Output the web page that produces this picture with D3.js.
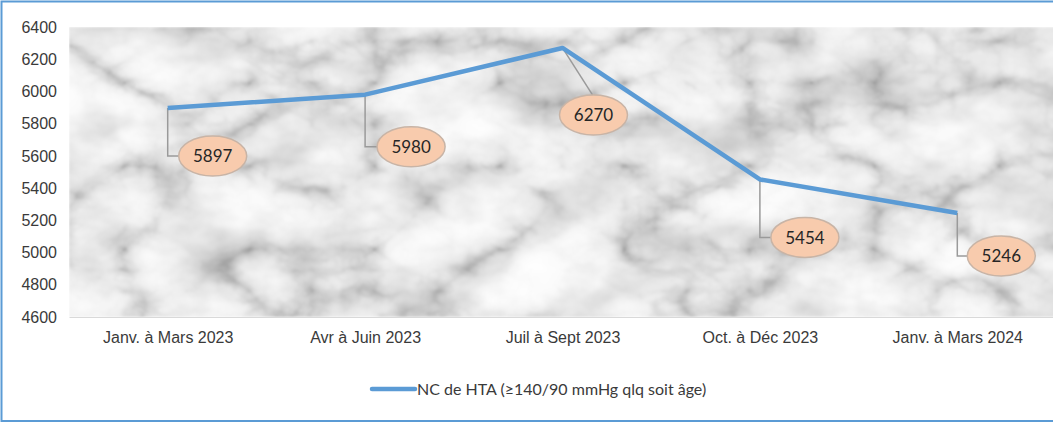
<!DOCTYPE html>
<html>
<head>
<meta charset="utf-8">
<script src="https://cdn.jsdelivr.net/npm/d3@7/dist/d3.min.js"></script>
<style>
  html, body { margin: 0; padding: 0; background: #fff; }
  svg { display: block; font-family: Lato, "Open Sans", sans-serif; }
</style>
</head>
<body>
<div id="chart"></div>
<script>
// Quarterly counts of new hypertension cases
const categories = ["Janv. à Mars 2023", "Avr à Juin 2023", "Juil à Sept 2023", "Oct. à Déc 2023", "Janv. à Mars 2024"];
const values = [5897, 5980, 6270, 5454, 5246];
const yTicks = [4600, 4800, 5000, 5200, 5400, 5600, 5800, 6000, 6200, 6400];
const seriesName = "NC de HTA (≥140/90 mmHg qlq soit âge)";
// callout offsets (px) relative to each point
const labelDx = [45, 46, 31, 45, 44];
const labelDy = [48, 52, 67, 58, 43];
const labelDiagonal = [false, false, true, false, false];

const W = 1053, H = 423;
const plot = { left: 69, top: 27, right: 1056, bottom: 317 };
const lineColor = "#5B9BD5";
const textColor = "#3a3a3a";

const svg = d3.select("#chart").append("svg")
  .attr("width", W).attr("height", H);

// marble texture: cloudy grey ground multiplied with turbulence veins
const defs = svg.append("defs");
const f = defs.append("filter").attr("id", "marble")
  .attr("x", 0).attr("y", 0).attr("width", 1).attr("height", 1)
  .attr("filterUnits", "objectBoundingBox")
  .attr("color-interpolation-filters", "sRGB");

function greyTable(src, table, result) {
  f.append("feColorMatrix").attr("in", src).attr("type", "matrix")
    .attr("values", "1 0 0 0 0  1 0 0 0 0  1 0 0 0 0  0 0 0 0 1").attr("result", src + "g");
  const c = f.append("feComponentTransfer").attr("in", src + "g").attr("result", result);
  ["feFuncR", "feFuncG", "feFuncB"].forEach(k =>
    c.append(k).attr("type", "table").attr("tableValues", table));
}

f.append("feTurbulence").attr("type", "fractalNoise")
  .attr("baseFrequency", "0.012 0.018").attr("numOctaves", 4).attr("seed", 11).attr("result", "cloud");
greyTable("cloud", "0.82 0.84 0.89 0.94 0.98 0.99 1 1", "ground");

f.append("feTurbulence").attr("type", "turbulence")
  .attr("baseFrequency", "0.008 0.012").attr("numOctaves", 5).attr("seed", 3).attr("result", "vein");
greyTable("vein", "0.7 0.86 0.95 0.98 1 1 1 1", "veins");

f.append("feBlend").attr("in", "ground").attr("in2", "veins").attr("mode", "multiply").attr("result", "mix");
f.append("feGaussianBlur").attr("in", "mix").attr("stdDeviation", 0.9);

svg.append("rect")
  .attr("x", plot.left).attr("y", plot.top)
  .attr("width", plot.right - plot.left).attr("height", plot.bottom - plot.top)
  .attr("fill", "#e6e6e6")
  .attr("filter", "url(#marble)");

// scales
const x = d3.scalePoint().domain(categories).range([plot.left, plot.right]).padding(0.5);
const y = d3.scaleLinear().domain([4600, 6400]).range([plot.bottom, plot.top]);

// y axis
const yAxis = svg.append("g")
  .attr("transform", `translate(${plot.left},0)`)
  .call(d3.axisLeft(y).tickValues(yTicks).tickSize(0).tickPadding(12).tickFormat(d3.format("d")));
yAxis.select(".domain").remove();
yAxis.selectAll("text").attr("fill", textColor).style("font-size", "16px");

// x axis
const xAxis = svg.append("g")
  .attr("transform", `translate(0,${plot.bottom})`)
  .call(d3.axisBottom(x).tickSize(0).tickPadding(15));
xAxis.select(".domain").attr("stroke", "#d9d9d9");
xAxis.selectAll("text").attr("fill", textColor).style("font-size", "16px");

// leader lines
const pts = categories.map((c, i) => ({ c, v: values[i], px: x(c), py: y(values[i]), dx: labelDx[i], dy: labelDy[i], diag: labelDiagonal[i] }));
svg.append("g").selectAll("path").data(pts).join("path")
  .attr("fill", "none").attr("stroke", "#9a9a9a").attr("stroke-width", 1.5)
  .attr("d", d => {
    const lx = d.px + d.dx, ly = d.py + d.dy;
    if (d.diag) return `M${d.px},${d.py} L${lx - 1},${ly - 20}`;
    return `M${d.px},${d.py} V${ly} H${lx - 33}`;
  });

// series line
const line = d3.line().x(d => d.px).y(d => d.py);
svg.append("path").datum(pts)
  .attr("fill", "none").attr("stroke", lineColor).attr("stroke-width", 4.5)
  .attr("stroke-linejoin", "round")
  .attr("d", line);

// value callouts
const lab = svg.append("g").selectAll("g").data(pts).join("g")
  .attr("transform", d => `translate(${d.px + d.dx},${d.py + d.dy})`);
lab.append("ellipse").attr("rx", 34).attr("ry", 20)
  .attr("fill", "#F8CBAD").attr("stroke", "#c8b4a6").attr("stroke-width", 1.5);
lab.append("text").attr("text-anchor", "middle").attr("dy", "0.36em")
  .attr("fill", "#262626").style("font-size", "17px")
  .text(d => d3.format("d")(d.v));

// legend
const lg = svg.append("g").attr("transform", "translate(372,389)");
lg.append("line").attr("x1", 0).attr("x2", 43).attr("y1", 0).attr("y2", 0)
  .attr("stroke", lineColor).attr("stroke-width", 4.5).attr("stroke-linecap", "round");
lg.append("text").attr("x", 45).attr("dy", "0.36em")
  .attr("fill", textColor).style("font-size", "16px").text(seriesName);

// outer frame
svg.append("rect").attr("x", 1.5).attr("y", 1.5).attr("width", W + 10).attr("height", H - 3.5)
  .attr("fill", "none").attr("stroke", lineColor).attr("stroke-width", 2);
</script>
</body>
</html>
